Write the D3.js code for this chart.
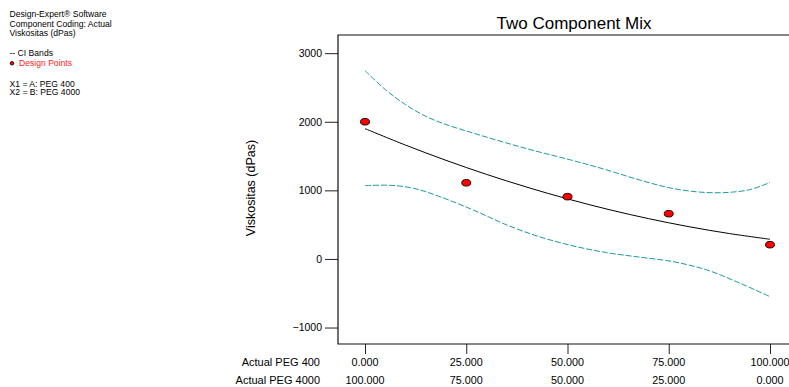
<!DOCTYPE html>
<html>
<head>
<meta charset="utf-8">
<script src="https://d3js.org/d3.v7.min.js"></script>
<style>
body { margin: 0; background: white; }
svg { font-family: "Liberation Sans", Arial, sans-serif; }
</style>
</head>
<body>
<svg id="chart" width="789" height="387"></svg>
<script>
// design points
var pointX = [0, 25, 50, 75, 100];
var pointY = [2000, 1110, 908, 660, 208];

// fitted model line
var fitX = [0, 10, 20, 30, 40, 50, 60, 70, 80, 90, 100];
var fitY = [1900, 1660, 1438, 1233, 1046, 876, 723, 588, 470, 370, 287];

// upper / lower CI bands
var upX = [0, 5, 10, 15, 20, 27, 35, 43, 51, 59, 67, 75, 82, 88.5, 95, 100];
var upY = [2745, 2470, 2250, 2080, 1960, 1830, 1690, 1560, 1440, 1310, 1165, 1040, 978, 967, 1010, 1115];
var loX = [0, 6, 12, 18.5, 26.7, 35, 43, 51.4, 59.7, 68, 76, 84.4, 92.6, 100];
var loY = [1068, 1074, 1030, 908, 714, 496, 325, 190, 92, 25, -39, -160, -354, -550];

var yTicks = [-1000, 0, 1000, 2000, 3000];
var pegA = [0, 25, 50, 75, 100];
var pegB = [100, 75, 50, 25, 0];

var svg = d3.select("#chart");

var x = d3.scaleLinear().domain([-6.67, 106.67]).range([338, 797]);
var y = d3.scaleLinear().domain([-1240, 3265]).range([344, 35]);

// info text top-left
var info = svg.append("g").attr("font-size", "8.6px").attr("fill", "#000");
info.append("text").attr("x", 9.5).attr("y", 17).text("Design-Expert\u00AE Software");
info.append("text").attr("x", 9.5).attr("y", 26.5).text("Component Coding: Actual");
info.append("text").attr("x", 9.5).attr("y", 35.5).text("Viskositas (dPas)");
info.append("text").attr("x", 9.5).attr("y", 56).text("-- CI Bands");
info.append("circle").attr("cx", 12).attr("cy", 63.3).attr("r", 1.8).attr("fill", "red").attr("stroke", "#000").attr("stroke-width", 0.8);
info.append("text").attr("x", 19).attr("y", 66).attr("fill", "#ff2020").text("Design Points");
info.append("text").attr("x", 9.5).attr("y", 86.5).text("X1 = A: PEG 400");
info.append("text").attr("x", 9.5).attr("y", 95).text("X2 = B: PEG 4000");

// title
svg.append("text").attr("x", 574).attr("y", 29).attr("text-anchor", "middle")
  .attr("font-size", "17px").text("Two Component Mix");

// y axis
var yAxis = svg.append("g").attr("transform", "translate(338,0)")
  .call(d3.axisLeft(y).tickValues(yTicks).tickSize(13).tickPadding(3).tickFormat(d3.format("d")));
yAxis.select(".domain").remove();
yAxis.selectAll("line").attr("stroke", "#222");
yAxis.selectAll("text").attr("font-size", "10.5px").attr("font-family", "Liberation Sans, Arial, sans-serif").attr("fill", "#000");

svg.append("text").attr("transform", "translate(255,188) rotate(-90)")
  .attr("text-anchor", "middle").attr("font-size", "12.5px").text("Viskositas (dPas)");

// x axis ticks
var xAxis = svg.append("g").attr("transform", "translate(0,344)")
  .call(d3.axisBottom(x).tickValues(pegA).tickSize(10).tickFormat(""));
xAxis.select(".domain").remove();
xAxis.selectAll("line").attr("stroke", "#222");

var fmt = d3.format(".3f");
svg.append("g").selectAll("text").data(pegA).enter().append("text")
  .attr("x", function(d){ return x(d); }).attr("y", 366).attr("text-anchor", "middle")
  .attr("font-size", "10.8px").text(function(d){ return fmt(d); });
svg.append("g").selectAll("text").data(pegB).enter().append("text")
  .attr("x", function(d, i){ return x(pegA[i]); }).attr("y", 384).attr("text-anchor", "middle")
  .attr("font-size", "10.8px").text(function(d){ return fmt(d); });
svg.append("text").attr("x", 320).attr("y", 366).attr("text-anchor", "end").attr("font-size", "11px").text("Actual PEG 400");
svg.append("text").attr("x", 320).attr("y", 384).attr("text-anchor", "end").attr("font-size", "11px").text("Actual PEG 4000");

// plot frame (left, top, bottom)
svg.append("path")
  .attr("d", "M" + x.range()[1] + "," + y.range()[1] + "H" + x.range()[0] + "V" + y.range()[0] + "H" + x.range()[1])
  .attr("fill", "none").attr("stroke", "#111").attr("stroke-width", 1.2);

// CI bands
var ciLine = d3.line().curve(d3.curveCatmullRom.alpha(0.5))
  .x(function(d){ return x(d[0]); }).y(function(d){ return y(d[1]); });
svg.append("path").datum(d3.zip(upX, upY)).attr("d", ciLine)
  .attr("fill", "none").attr("stroke", "#1f9a9a").attr("stroke-width", 1).attr("stroke-dasharray", "6,2");
svg.append("path").datum(d3.zip(loX, loY)).attr("d", ciLine)
  .attr("fill", "none").attr("stroke", "#1f9a9a").attr("stroke-width", 1).attr("stroke-dasharray", "6,2");

// fit
svg.append("path").datum(d3.zip(fitX, fitY)).attr("d", d3.line().curve(d3.curveCatmullRom.alpha(0.5))
    .x(function(d){ return x(d[0]); }).y(function(d){ return y(d[1]); }))
  .attr("fill", "none").attr("stroke", "#000").attr("stroke-width", 1);

// design points
svg.append("g").selectAll("ellipse").data(d3.zip(pointX, pointY)).enter().append("ellipse")
  .attr("cx", function(d){ return x(d[0]); }).attr("cy", function(d){ return y(d[1]); })
  .attr("rx", 4.5).attr("ry", 3.3).attr("fill", "#ff0000").attr("stroke", "#000").attr("stroke-width", 0.9);
</script>
</body>
</html>
